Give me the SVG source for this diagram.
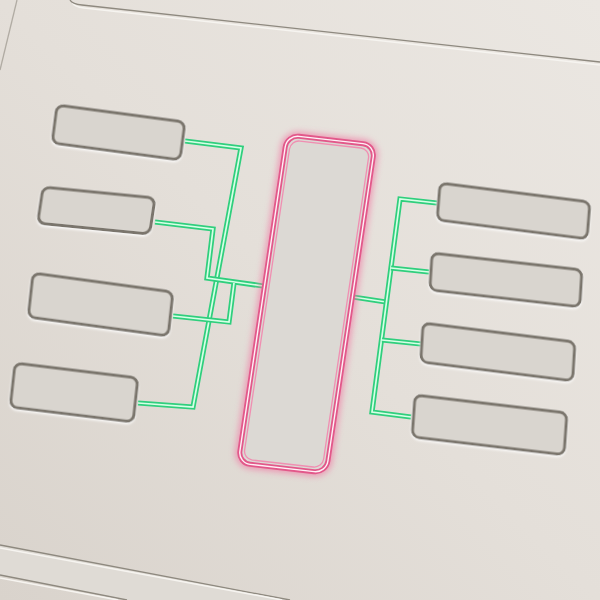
<svg xmlns="http://www.w3.org/2000/svg" width="600" height="600" viewBox="0 0 600 600">
<defs>
<linearGradient id="bg" x1="1" y1="0" x2="0" y2="1">
<stop offset="0" stop-color="#ebe7e2"/>
<stop offset="0.5" stop-color="#e4dfd9"/>
<stop offset="1" stop-color="#d9d3cc"/>
</linearGradient>
<filter id="glow" x="-30%" y="-10%" width="160%" height="120%">
<feGaussianBlur stdDeviation="3"/>
</filter>
<filter id="sh" x="-10%" y="-20%" width="120%" height="140%">
<feDropShadow dx="0" dy="1.5" stdDeviation="1" flood-color="#ffffff" flood-opacity="0.9"/>
</filter>
<path id="w1" d="M185,141 L241,148 L193,407 L138,403"/>
<path id="w2" d="M155,222 L213,229 L207,278 L263,286"/>
<path id="w3" d="M173,316 L229,322 L234,283"/>
<path id="w4" d="M353,297 L386,302"/>
<path id="w5" d="M437,203 L400,199 L372,412 L411,417"/>
<path id="w6" d="M391,268 L429,272"/>
<path id="w7" d="M382,340 L421,344"/>
</defs>
<style>
.box{fill:#d9d5cf;stroke:#7a756c;stroke-width:3;filter:url(#sh)}
.wire{fill:none;stroke:#2fcf7d;stroke-width:5.2;stroke-linejoin:miter}
.core{fill:none;stroke:#d6ffe6;stroke-width:1.7;stroke-linejoin:miter}
.edge{fill:none;stroke:#8e897f;stroke-width:1.3}
.hi{fill:none;stroke:#f6f4f0;stroke-width:1.5}
</style>
<rect width="600" height="600" fill="url(#bg)"/>
<g id="panel-edges">
<path class="hi" d="M72,2 Q74,7 84,8 L600,65"/>
<path class="edge" d="M70,0 Q72,4 82,5 L600,62"/>
<path class="edge" d="M17,0 L0,70" stroke-width="0.8" opacity="0.6"/>
<path d="M0,545 L290,600 L127,600 L0,575 Z" fill="#dfdbd5"/>
<path class="edge" d="M0,545 L290,600"/>
<path class="hi" d="M0,548 L282,600"/>
<path class="edge" d="M0,575 L127,600"/>
<path class="hi" d="M0,578 L118,600"/>
</g>
<g id="connectors">
<use href="#w1" class="wire"/><use href="#w1" class="core"/>
<use href="#w2" class="wire"/><use href="#w2" class="core"/>
<use href="#w3" class="wire"/><use href="#w3" class="core"/>
<use href="#w4" class="wire"/><use href="#w4" class="core"/>
<use href="#w5" class="wire"/><use href="#w5" class="core"/>
<use href="#w6" class="wire"/><use href="#w6" class="core"/>
<use href="#w7" class="wire"/><use href="#w7" class="core"/>
</g>
<g id="left-1"><rect class="box" x="0" y="0" width="128" height="38" rx="7" transform="matrix(1,0.133,-0.13,1,57,105)"/></g>
<g id="left-2"><rect class="box" x="0" y="0" width="112" height="36" rx="7" transform="matrix(1,0.098,-0.15,1,43,187)"/></g>
<g id="left-3"><rect class="box" x="0" y="0" width="140" height="44" rx="7" transform="matrix(1,0.136,-0.11,1,33,273)"/></g>
<g id="left-4"><rect class="box" x="0" y="0" width="123" height="44" rx="7" transform="matrix(1,0.122,-0.11,1,15,363)"/></g>
<g id="center">
<rect x="0" y="0" width="88" height="328" rx="12" transform="matrix(1,0.114,-0.149,1,287,135)" fill="none" stroke="#f07aa4" stroke-width="9" filter="url(#glow)" opacity="0.7"/>
<rect x="0" y="0" width="88" height="328" rx="12" transform="matrix(1,0.114,-0.149,1,287,135)" fill="#dcd9d4" stroke="#e2588a" stroke-width="5"/>
<rect x="0" y="0" width="88" height="328" rx="12" transform="matrix(1,0.114,-0.149,1,287,135)" fill="none" stroke="#fff0f6" stroke-width="1.4"/>
<rect x="4.5" y="4.5" width="79" height="319" rx="9" transform="matrix(1,0.114,-0.149,1,287,135)" fill="none" stroke="#f08fb2" stroke-width="1.3"/>
</g>
<g id="right-1"><rect class="box" x="0" y="0" width="150" height="37" rx="7" transform="matrix(1,0.127,-0.08,1,440,183)"/></g>
<g id="right-2"><rect class="box" x="0" y="0" width="150" height="37" rx="7" transform="matrix(1,0.113,-0.06,1,432,253)"/></g>
<g id="right-3"><rect class="box" x="0" y="0" width="152" height="39" rx="7" transform="matrix(1,0.125,-0.06,1,423,323)"/></g>
<g id="right-4"><rect class="box" x="0" y="0" width="152" height="42" rx="7" transform="matrix(1,0.118,-0.07,1,415,395)"/></g>
</svg>
